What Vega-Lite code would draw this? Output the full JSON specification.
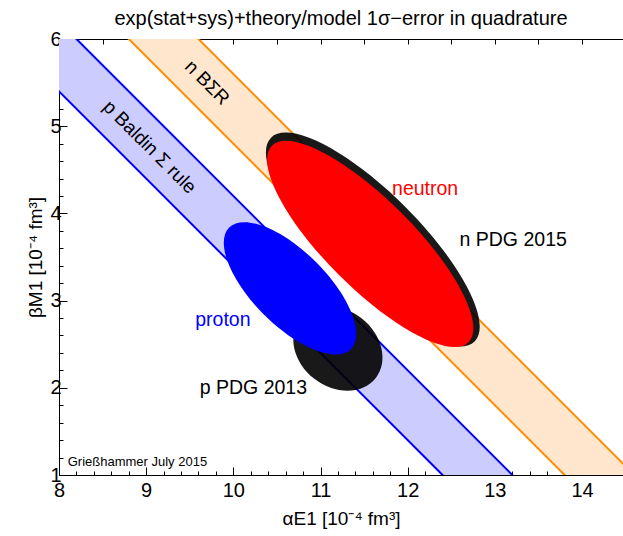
{
  "$schema": "https://vega.github.io/schema/vega-lite/v6.json",
  "width": 564,
  "height": 436,
  "autosize": {"type": "none"},
  "padding": {"left": 59, "top": 39, "right": 0, "bottom": 61},
  "background": "white",
  "config": {
    "view": {"stroke": null},
    "font": "Liberation Sans",
    "axis": {"grid": false, "domainColor": "black", "tickColor": "black", "labelColor": "black", "titleColor": "black", "titleFontWeight": "normal", "labelFont": "Liberation Sans", "titleFont": "Liberation Sans", "zindex": 1, "domainWidth": 1, "tickWidth": 1}
  },
  "title": {"text": "exp(stat+sys)+theory/model 1σ−error in quadrature", "fontSize": 20, "fontWeight": "normal", "font": "Liberation Sans", "color": "black", "frame": "group", "anchor": "middle", "offset": 0},
  "resolve": {"axis": {"x": "independent", "y": "independent"}},
  "layer": [
    {
      "data": {"values": [
        {"band": "p", "a": 7, "lo": 6.4, "hi": 7.2},
        {"band": "p", "a": 15, "lo": -1.6, "hi": -0.8},
        {"band": "n", "a": 7, "lo": 7.8, "hi": 8.6},
        {"band": "n", "a": 15, "lo": -0.2, "hi": 0.6}
      ]},
      "mark": {"type": "area", "clip": true},
      "encoding": {
        "x": {"field": "a", "type": "quantitative", "scale": {"domain": [8, 14.47], "nice": false, "zero": false},
          "axis": {"values": [8,8.2,8.4,8.6,8.8,9,9.2,9.4,9.6,9.8,10,10.2,10.4,10.6,10.8,11,11.2,11.4,11.6,11.8,12,12.2,12.4,12.6,12.8,13,13.2,13.4,13.6,13.8,14,14.2,14.4],
            "tickCount": 200,
            "labelExpr": "abs(datum.value - round(datum.value)) < 0.01 ? format(datum.value, 'd') : ''",
            "tickSize": {"condition": {"test": "abs(datum.value - round(datum.value)) < 0.01", "value": -8}, "value": -4},
            "labelFlush": false, "labelOverlap": false, "labelFontSize": 20, "labelPadding": 13,
            "title": "αE1 [10⁻⁴ fm³]", "titleFontSize": 19, "titlePadding": 5}},
        "y": {"field": "lo", "type": "quantitative", "stack": null, "scale": {"domain": [1, 6], "nice": false, "zero": false},
          "axis": {"values": [1,1.2,1.4,1.6,1.8,2,2.2,2.4,2.6,2.8,3,3.2,3.4,3.6,3.8,4,4.2,4.4,4.6,4.8,5,5.2,5.4,5.6,5.8,6],
            "tickCount": 200,
            "labelExpr": "abs(datum.value - round(datum.value)) < 0.01 ? format(datum.value, 'd') : ''",
            "tickSize": {"condition": {"test": "abs(datum.value - round(datum.value)) < 0.01", "value": -8}, "value": -4},
            "labelFlush": false, "labelOverlap": false, "labelFontSize": 20, "labelPadding": 6,
            "title": "βM1 [10⁻⁴ fm³]", "titleFontSize": 19, "titlePadding": 4}},
        "y2": {"field": "hi"},
        "fill": {"field": "band", "type": "nominal", "scale": {"domain": ["p", "n"], "range": ["#ccccff", "#ffe6cc"]}, "legend": null}
      }
    },
    {
      "data": {"values": [
        {"band": "p", "a1": 7, "b1": 6.4, "a2": 15, "b2": -1.6},
        {"band": "p", "a1": 7, "b1": 7.2, "a2": 15, "b2": -0.8},
        {"band": "n", "a1": 7, "b1": 7.8, "a2": 15, "b2": -0.2},
        {"band": "n", "a1": 7, "b1": 8.6, "a2": 15, "b2": 0.6}
      ]},
      "mark": {"type": "rule", "clip": true, "strokeWidth": 2},
      "encoding": {
        "x": {"field": "a1", "type": "quantitative", "axis": null},
        "y": {"field": "b1", "type": "quantitative", "axis": null},
        "x2": {"field": "a2"},
        "y2": {"field": "b2"},
        "stroke": {"field": "band", "type": "nominal", "scale": {"domain": ["p", "n"], "range": ["#0000ff", "#ff8c00"]}, "legend": null}
      }
    },
    {
      "data": {"values": [{"name": "n PDG 2015", "alpha": 11.6, "beta": 3.7}]},
      "mark": {"type": "point", "filled": true, "shape": "M -1 0 A 1 0.32 0 1 0 1 0 A 1 0.32 0 1 0 -1 0 Z", "size": 82944, "angle": 45, "color": "black", "opacity": 0.9, "strokeWidth": 0},
      "encoding": {
        "x": {"field": "alpha", "type": "quantitative",
          "axis": {"orient": "top", "values": [8.5,9,9.5,10,10.5,11,11.5,12,12.5,13,13.5,14], "tickCount": 200, "labels": false, "tickSize": -5, "title": null}},
        "y": {"field": "beta", "type": "quantitative", "axis": null}
      }
    },
    {
      "data": {"values": [{"name": "neutron", "alpha": 11.57, "beta": 3.65}]},
      "mark": {"type": "point", "filled": true, "shape": "M -1 0 A 1 0.317 0 1 0 1 0 A 1 0.317 0 1 0 -1 0 Z", "size": 77284, "angle": 45, "color": "#ff0000", "opacity": 1, "strokeWidth": 0},
      "encoding": {
        "x": {"field": "alpha", "type": "quantitative", "axis": null},
        "y": {"field": "beta", "type": "quantitative", "axis": null}
      }
    },
    {
      "data": {"values": [{"name": "p PDG 2013", "alpha": 11.2, "beta": 2.45}]},
      "mark": {"type": "point", "filled": true, "shape": "M -1 0 A 1 0.8 0 1 0 1 0 A 1 0.8 0 1 0 -1 0 Z", "size": 9216, "angle": 38, "color": "black", "opacity": 0.9, "strokeWidth": 0},
      "encoding": {
        "x": {"field": "alpha", "type": "quantitative", "axis": null},
        "y": {"field": "beta", "type": "quantitative", "axis": null}
      }
    },
    {
      "data": {"values": [{"name": "proton", "alpha": 10.65, "beta": 3.14}]},
      "mark": {"type": "point", "filled": true, "shape": "M -1 0 A 1 0.43 0 1 0 1 0 A 1 0.43 0 1 0 -1 0 Z", "size": 29584, "angle": 45, "color": "#0000ff", "opacity": 1, "strokeWidth": 0},
      "encoding": {
        "x": {"field": "alpha", "type": "quantitative", "axis": null},
        "y": {"field": "beta", "type": "quantitative", "axis": null}
      }
    },
    {
      "data": {"values": [
        {"label": "p Baldin Σ rule", "alpha": 9.04, "beta": 4.76},
        {"label": "n BΣR", "alpha": 9.7, "beta": 5.5}
      ]},
      "mark": {"type": "text", "fontSize": 19, "angle": 45, "align": "center", "baseline": "middle", "color": "black"},
      "encoding": {
        "x": {"field": "alpha", "type": "quantitative", "axis": null},
        "y": {"field": "beta", "type": "quantitative", "axis": null},
        "text": {"field": "label"}
      }
    },
    {
      "data": {"values": [
        {"label": "n PDG 2015", "alpha": 13.21, "beta": 3.7},
        {"label": "p PDG 2013", "alpha": 10.23, "beta": 2.0}
      ]},
      "mark": {"type": "text", "fontSize": 19.5, "align": "center", "baseline": "middle", "color": "black"},
      "encoding": {
        "x": {"field": "alpha", "type": "quantitative", "axis": null},
        "y": {"field": "beta", "type": "quantitative", "axis": null},
        "text": {"field": "label"}
      }
    },
    {
      "data": {"values": [{"label": "neutron", "alpha": 12.2, "beta": 4.28}]},
      "mark": {"type": "text", "fontSize": 19.5, "align": "center", "baseline": "middle", "color": "#ff0000"},
      "encoding": {
        "x": {"field": "alpha", "type": "quantitative", "axis": null},
        "y": {"field": "beta", "type": "quantitative", "axis": null},
        "text": {"field": "label"}
      }
    },
    {
      "data": {"values": [{"label": "proton", "alpha": 9.88, "beta": 2.78}]},
      "mark": {"type": "text", "fontSize": 19.5, "align": "center", "baseline": "middle", "color": "#0000ff"},
      "encoding": {
        "x": {"field": "alpha", "type": "quantitative", "axis": null},
        "y": {"field": "beta", "type": "quantitative", "axis": null},
        "text": {"field": "label"}
      }
    },
    {
      "data": {"values": [{"label": "Grießhammer July 2015", "alpha": 8.1, "beta": 1.15}]},
      "mark": {"type": "text", "fontSize": 13, "align": "left", "baseline": "middle", "color": "black"},
      "encoding": {
        "x": {"field": "alpha", "type": "quantitative", "axis": null},
        "y": {"field": "beta", "type": "quantitative", "axis": null},
        "text": {"field": "label"}
      }
    }
  ]
}
